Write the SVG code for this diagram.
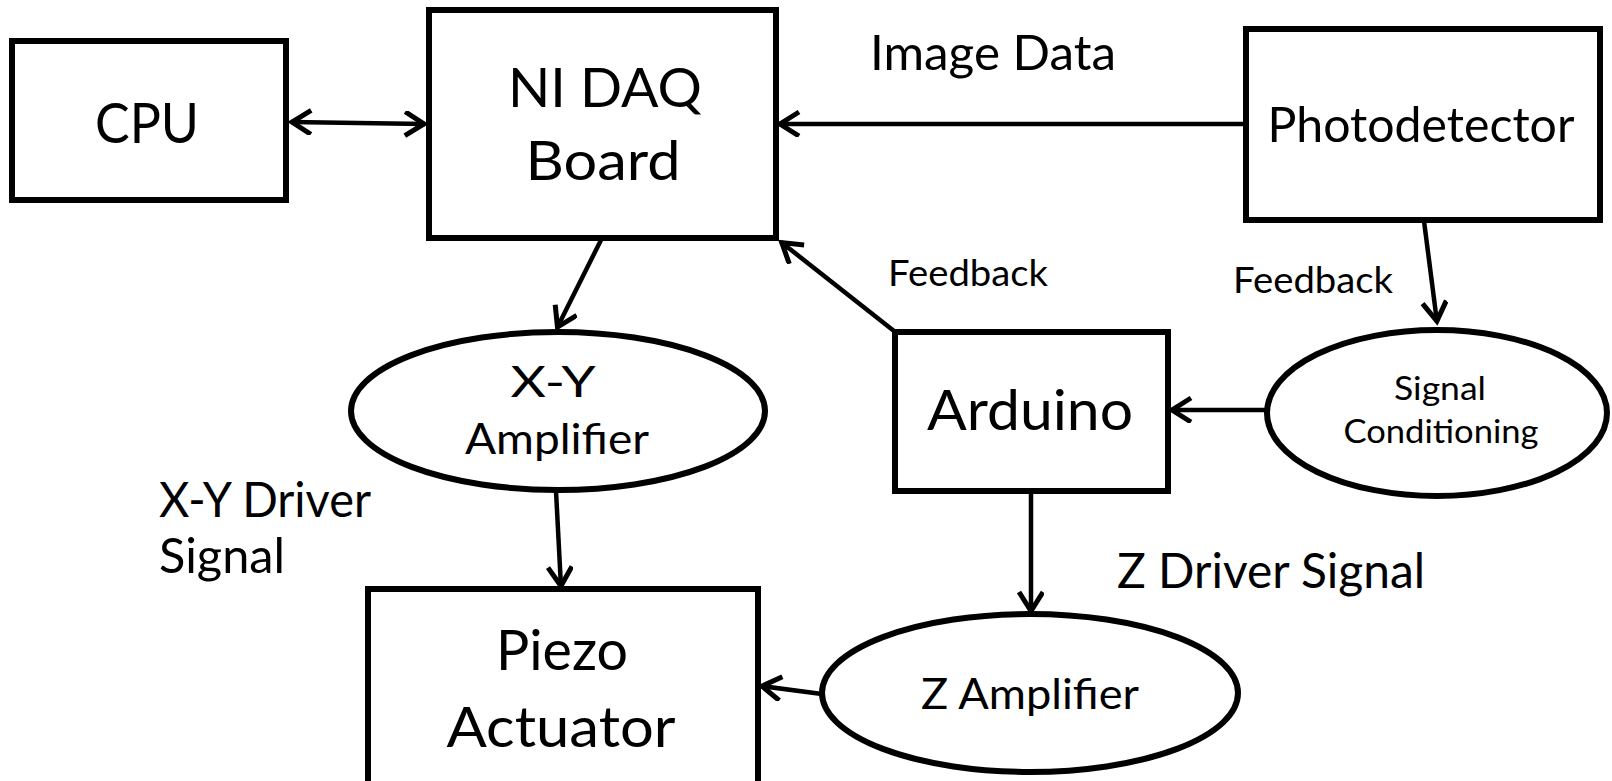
<svg xmlns="http://www.w3.org/2000/svg" width="1612" height="781" viewBox="0 0 1612 781">
<style>
.box{fill:#fff;stroke:#000;stroke-width:6}
.conn{stroke:#000;stroke-width:4.5;fill:none}
text{font-family:Lato,"Open Sans","Liberation Sans",sans-serif;fill:#000}
</style>
<defs>
<marker id="arr" markerUnits="userSpaceOnUse" markerWidth="32" markerHeight="32" viewBox="0 0 32 32" refX="23" refY="13" orient="auto-start-reverse">
<path d="M3 1 L22 13 L3 25" fill="none" stroke="#000" stroke-width="5" stroke-linejoin="miter"/>
</marker>
</defs>
<rect width="1612" height="781" fill="#fff"/>
<g id="connectors">
<line class="conn" x1="291" y1="122" x2="425" y2="124" marker-start="url(#arr)" marker-end="url(#arr)"/>
<line class="conn" x1="1246" y1="124" x2="779" y2="124" marker-end="url(#arr)"/>
<line class="conn" x1="601" y1="240" x2="557" y2="328" marker-end="url(#arr)"/>
<line class="conn" x1="556" y1="491" x2="561" y2="587" marker-end="url(#arr)"/>
<line class="conn" x1="894" y1="331" x2="781" y2="242" marker-end="url(#arr)"/>
<line class="conn" x1="1424" y1="221" x2="1437" y2="322" marker-end="url(#arr)"/>
<line class="conn" x1="1265" y1="410" x2="1171" y2="410" marker-end="url(#arr)"/>
<line class="conn" x1="1031" y1="491" x2="1031" y2="612" marker-end="url(#arr)"/>
<line class="conn" x1="822" y1="694" x2="761" y2="686" marker-end="url(#arr)"/>
</g>
<g id="cpu">
<rect class="box" x="12" y="41" width="274" height="159"/>
<text x="147" y="143" font-size="56" text-anchor="middle" textLength="104" lengthAdjust="spacingAndGlyphs">CPU</text>
</g>
<g id="nidaq">
<rect class="box" x="429" y="10" width="347" height="228"/>
<text x="605" y="107" font-size="55" text-anchor="middle" textLength="194" lengthAdjust="spacingAndGlyphs">NI DAQ</text>
<text x="603" y="180" font-size="55" text-anchor="middle" textLength="155" lengthAdjust="spacingAndGlyphs">Board</text>
</g>
<g id="photodetector">
<rect class="box" x="1246" y="29" width="354" height="191"/>
<text x="1421" y="142" font-size="49" text-anchor="middle" textLength="307" lengthAdjust="spacingAndGlyphs">Photodetector</text>
</g>
<g id="xyamp">
<ellipse class="box" cx="558" cy="411" rx="207" ry="79"/>
<text x="553" y="397" font-size="42" text-anchor="middle" textLength="85" lengthAdjust="spacingAndGlyphs">X-Y</text>
<text x="557" y="454" font-size="42" text-anchor="middle" textLength="184" lengthAdjust="spacingAndGlyphs">Amplifier</text>
</g>
<g id="arduino">
<rect class="box" x="895" y="332" width="273" height="159"/>
<text x="1030" y="430" font-size="56" text-anchor="middle" textLength="206" lengthAdjust="spacingAndGlyphs">Arduino</text>
</g>
<g id="signalcond">
<ellipse class="box" cx="1437" cy="413" rx="170" ry="83"/>
<text x="1440" y="400" font-size="33" text-anchor="middle" textLength="92" lengthAdjust="spacingAndGlyphs">Signal</text>
<text x="1441" y="443" font-size="33" text-anchor="middle" textLength="195" lengthAdjust="spacingAndGlyphs">Conditioning</text>
</g>
<g id="piezo">
<rect class="box" x="368" y="589" width="390" height="220"/>
<text x="562" y="670" font-size="57" text-anchor="middle" textLength="132" lengthAdjust="spacingAndGlyphs">Piezo</text>
<text x="561" y="747" font-size="57" text-anchor="middle" textLength="229" lengthAdjust="spacingAndGlyphs">Actuator</text>
</g>
<g id="zamp">
<ellipse class="box" cx="1030" cy="693" rx="208" ry="79"/>
<text x="1030" y="709" font-size="43" text-anchor="middle" textLength="218" lengthAdjust="spacingAndGlyphs">Z Amplifier</text>
</g>
<g id="labels">
<text x="993" y="70" font-size="48" text-anchor="middle" textLength="246" lengthAdjust="spacingAndGlyphs">Image Data</text>
<text x="968" y="286" font-size="37" text-anchor="middle" textLength="160" lengthAdjust="spacingAndGlyphs">Feedback</text>
<text x="1313" y="293" font-size="37" text-anchor="middle" textLength="160" lengthAdjust="spacingAndGlyphs">Feedback</text>
<text x="159" y="517" font-size="48" textLength="212" lengthAdjust="spacingAndGlyphs">X-Y Driver</text>
<text x="159" y="573" font-size="48" textLength="126" lengthAdjust="spacingAndGlyphs">Signal</text>
<text x="1117" y="588" font-size="48" textLength="308" lengthAdjust="spacingAndGlyphs">Z Driver Signal</text>
</g>
</svg>
